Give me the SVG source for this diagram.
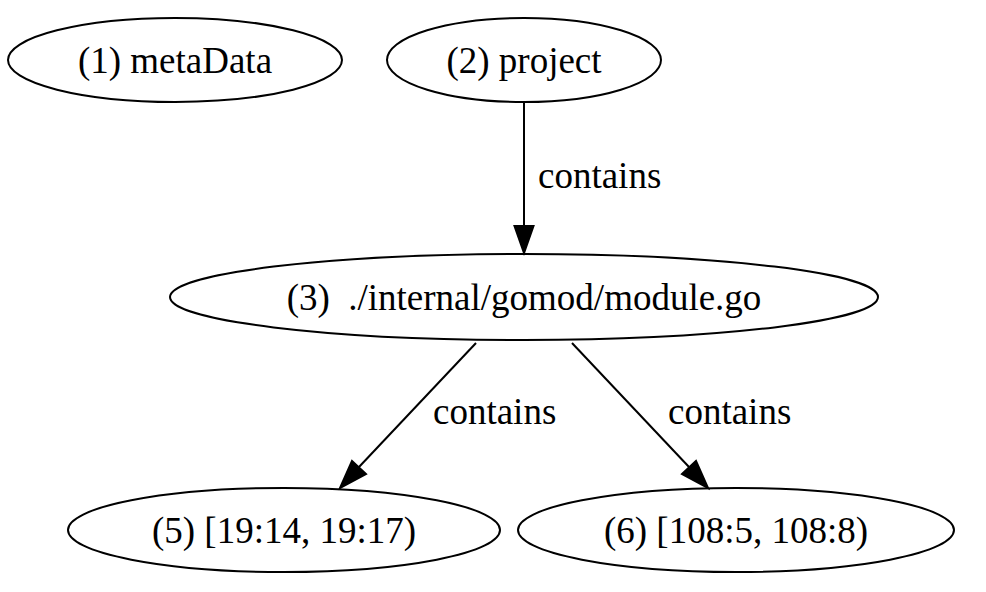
<svg xmlns="http://www.w3.org/2000/svg" width="986" height="592" viewBox="0 0 986 592">
<style>
.n ellipse{fill:none;stroke:#000;stroke-width:2}
text{font-family:"Liberation Serif","Times New Roman",serif;font-size:37px;fill:#000;white-space:pre}
.n text{text-anchor:middle}
.e line{stroke:#000;stroke-width:2}
.e polygon{fill:#000;stroke:#000;stroke-width:2}
</style>
<rect width="986" height="592" fill="#fff"/>
<g id="node1" class="n"><ellipse cx="175" cy="60" rx="167" ry="42"/><text x="175" y="73">(1) metaData</text></g>
<g id="node2" class="n"><ellipse cx="524" cy="60" rx="137" ry="42"/><text x="524" y="73">(2) project</text></g>
<g id="node3" class="n"><ellipse cx="524" cy="297" rx="354" ry="43"/><text x="524" y="310">(3)  ./internal/gomod/module.go</text></g>
<g id="node5" class="n"><ellipse cx="284" cy="530" rx="216" ry="42"/><text x="284" y="543">(5) [19:14, 19:17)</text></g>
<g id="node6" class="n"><ellipse cx="736" cy="530" rx="218" ry="42"/><text x="736" y="543">(6) [108:5, 108:8)</text></g>
<g id="edges" class="e">
<line x1="524" y1="102" x2="524" y2="226"/>
<polygon points="514.5,226 533.5,226 524,253"/>
<text x="538" y="188">contains</text>
<line x1="476" y1="343" x2="359" y2="467"/>
<polygon points="352,461 366,474 340,488"/>
<text x="433" y="424">contains</text>
<line x1="572" y1="343" x2="689" y2="467"/>
<polygon points="682,474 696,461 708,488"/>
<text x="668" y="424">contains</text>
</g>
</svg>
